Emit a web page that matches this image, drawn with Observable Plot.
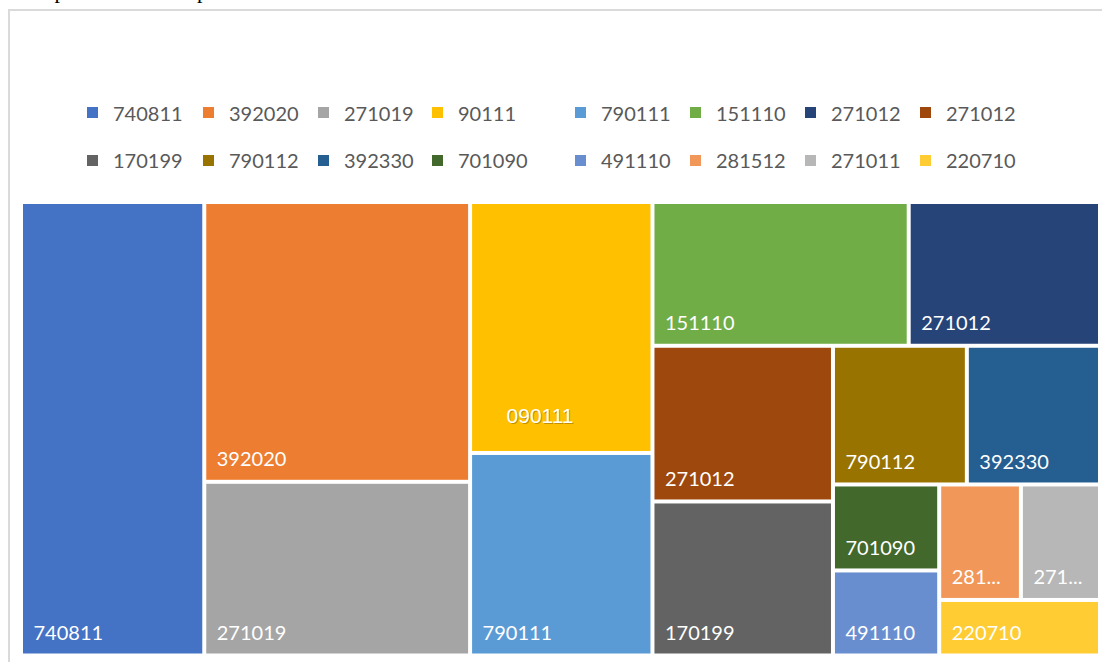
<!DOCTYPE html>
<html><head><meta charset="utf-8">
<script src="https://cdn.jsdelivr.net/npm/d3@7"></script>
<script src="https://cdn.jsdelivr.net/npm/@observablehq/plot@0.6"></script>
<style>
html,body{margin:0;padding:0;background:#fff;}
#page{position:relative;width:1102px;height:662px;overflow:hidden;font-family:Lato,"Open Sans",sans-serif;}
#frame{position:absolute;left:8px;top:9px;width:1200px;height:700px;border-top:2px solid #dadada;border-left:2px solid #dadada;box-sizing:border-box;}
.cut{position:absolute;top:-20.4px;font-size:22px;line-height:22px;font-family:"Liberation Serif",serif;color:#000;}
#legend{position:absolute;left:87px;top:97.5px;display:grid;grid-template-columns:116px 115px 114px 143px 115px 115px 115px auto;row-gap:17.5px;}
.item{display:flex;align-items:center;height:30px;font-size:20px;color:#595959;white-space:nowrap;}
.sw{width:11px;height:11px;margin-right:15px;flex:none;}
#chart{position:absolute;left:0;top:190px;}
</style></head>
<body><div id="page">
<div id="frame"></div>
<span class="cut" style="left:54.5px">p</span><span class="cut" style="left:197px">p</span>
<div id="legend"></div>
<div id="chart"></div>
</div>
<script>
// ---- data ----
const names = ["740811","392020","271019","90111","790111","151110","271012","271012","170199","790112","392330","701090","491110","281512","271011","220710"];
const cellLabels = ["740811","392020","271019","090111","790111","151110","271012","271012","170199","790112","392330","701090","491110","281512","271011","220710"];
const values = [828,741,460,456,368,367,274,280,277,185,184,91,90,94,91,89];
const colors = ["#4472C4","#ED7D31","#A5A5A5","#FFC000","#5B9BD5","#70AD47","#264478","#9E480E","#636363","#997300","#255E91","#43682B","#698ED0","#F1975A","#B7B7B7","#FFCD33"];

// ---- legend ----
const legend = document.getElementById("legend");
names.forEach((n, i) => {
  const it = document.createElement("div");
  it.className = "item";
  const sw = document.createElement("span");
  sw.className = "sw"; sw.style.background = colors[i];
  const tx = document.createElement("span");
  tx.textContent = n;
  it.appendChild(sw); it.appendChild(tx);
  legend.appendChild(it);
});

// ---- treemap layout (strips along the shorter side: first item alone, then pairs) ----
function stripTile(parent, x0, y0, x1, y1) {
  const nodes = parent.children;
  let value = parent.value, i = 0;
  while (i < nodes.length) {
    const k = i === 0 ? 1 : 2;
    const row = nodes.slice(i, i + k);
    const sum = d3.sum(row, d => d.value);
    const dx = x1 - x0, dy = y1 - y0;
    if (dx >= dy) {
      const w = value ? dx * sum / value : dx;
      let y = y0;
      row.forEach(n => { n.x0 = x0; n.x1 = x0 + w; n.y0 = y; y += dy * n.value / sum; n.y1 = y; });
      x0 += w;
    } else {
      const h = value ? dy * sum / value : dy;
      let x = x0;
      row.forEach(n => { n.y0 = y0; n.y1 = y0 + h; n.x0 = x; x += dx * n.value / sum; n.x1 = x; });
      y0 += h;
    }
    value -= sum; i += k;
  }
}

const W = 1079, H = 453.5;
const root = d3.hierarchy({children: names.map((n, i) => ({name: n, label: cellLabels[i], value: values[i], color: colors[i], i}))})
  .sum(d => d.value || 0);
d3.treemap().size([W, H]).tile(stripTile)(root);
const leaves = root.leaves();

const fs = 20, charW = 0.58 * fs, dotsW = 0.75 * fs;
function fitLabel(t, w) {
  const avail = w - 24;
  if (t.length * charW <= avail) return t;
  const k = Math.max(0, Math.floor((avail - dotsW) / charW));
  return t.slice(0, k) + "...";
}

const chart = Plot.plot({
  width: 1102, height: 472,
  marginLeft: 21, marginRight: 2, marginTop: 12, marginBottom: 6.5,
  x: {domain: [0, W], range: [21, 1100], axis: null},
  y: {domain: [0, H], range: [12, 465.5], axis: null},
  color: {type: "identity"},
  marks: [
    Plot.rect(leaves, {x1: d => d.x0, x2: d => d.x1, y1: d => d.y0, y2: d => d.y1, fill: d => d.data.color, inset: 2}),
    Plot.text(leaves.filter(d => d.data.i !== 3), {
      x: d => d.x0, y: d => d.y1, text: d => fitLabel(d.data.label, d.x1 - d.x0),
      dx: 12, dy: -16, textAnchor: "start", lineAnchor: "bottom",
      fill: "white", fontSize: fs, fontFamily: "Lato"
    }),
    Plot.text(leaves.filter(d => d.data.i === 3), {
      x: d => d.x0, y: d => d.y1, text: d => d.data.label,
      dx: 37, dy: -29, textAnchor: "start", lineAnchor: "bottom",
      fill: "rgba(0,0,0,0.25)", fontSize: 21, fontFamily: "Liberation Sans"
    }),
    Plot.text(leaves.filter(d => d.data.i === 3), {
      x: d => d.x0, y: d => d.y1, text: d => d.data.label,
      dx: 36, dy: -30, textAnchor: "start", lineAnchor: "bottom",
      fill: "white", fontSize: 21, fontFamily: "Liberation Sans"
    })
  ]
});
document.getElementById("chart").appendChild(chart);
</script>
</body></html>
